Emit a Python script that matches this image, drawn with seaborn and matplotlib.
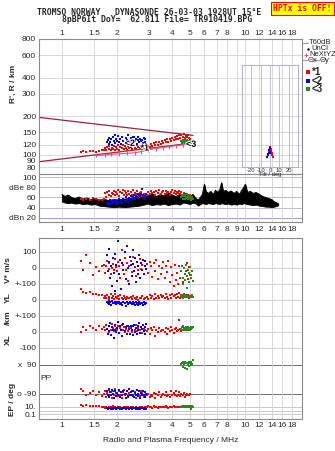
import numpy as np
import pandas as pd
import matplotlib
matplotlib.use("Agg")
import matplotlib.pyplot as plt
import seaborn as sns
import matplotlib.patheffects as pe
from matplotlib.ticker import FixedLocator, NullLocator, FixedFormatter

# ---------------- data ----------------
# O-mode echoes (*1, red)
r_f = [1.27, 1.31, 1.36, 1.42, 1.47, 1.53, 1.60, 1.66,
       1.70, 1.72, 1.75, 1.77, 1.80, 1.82, 1.85, 1.87, 1.90, 1.92, 1.95, 1.97,
       2.00, 2.03, 2.06, 2.09, 2.12, 2.15, 2.18, 2.21, 2.24, 2.27, 2.30, 2.34,
       2.38, 2.42, 2.46, 2.50, 2.54, 2.58, 2.62, 2.66, 2.70, 2.75, 2.80, 2.86,
       2.92, 2.97, 3.02, 3.07, 3.12, 3.17, 3.22, 3.28, 3.34, 3.40, 3.46, 3.52,
       3.58, 3.64, 3.70, 3.76, 3.82, 3.88, 3.95, 4.02, 4.08, 4.14, 4.20, 4.26,
       4.32, 4.38, 4.44, 4.50, 4.56, 4.62, 4.68, 4.74, 4.80, 4.87, 4.94, 5.02]
r_h = [106, 107, 105, 108, 107, 106, 108, 109,
       110, 113, 109, 115, 111, 117, 110, 114, 112, 118, 109, 115,
       112, 119, 110, 116, 113, 120, 111, 117, 114, 110, 118, 113,
       116, 111, 119, 114, 112, 120, 115, 113, 118, 116, 114, 117,
       112, 118, 115, 121, 117, 123, 119, 125, 120, 127, 122, 128,
       124, 130, 126, 132, 127, 134, 129, 136, 131, 138, 133, 140,
       134, 142, 136, 144, 138, 146, 135, 140, 137, 143, 135, 132]
r_db = [57, 55, 58, 56, 59, 57, 55, 56,
        58, 68, 61, 70, 65, 72, 62, 69, 66, 73, 64, 70,
        67, 74, 63, 71, 68, 75, 65, 72, 69, 64, 73, 67,
        70, 65, 74, 68, 66, 72, 63, 69, 71, 62, 67, 60,
        64, 70, 66, 73, 68, 71, 65, 72, 69, 74, 66, 70,
        72, 67, 73, 69, 71, 65, 70, 74, 68, 72, 66, 70,
        69, 73, 67, 71, 64, 68, 62, 66, 60, 64, 58, 61]
r_v = [45, -10, 78, 30, -45, 5, -20, 15,
       20, -30, 10, 45, -5, 30, -40, 0, 25, -15, 55, 5,
       -20, 40, 10, -60, 110, 20, -35, 60, -10, 30, -80, 15,
       45, -25, 70, 5, -50, 35, -15, 55, -5, 20, -40, 10,
       25, -30, 40, 10, -55, 30, -20, 50, -70, 15, -40, 0,
       35, -60, 10, -25, 45, -90, 5, -45, -110, 20, -75, -30,
       -100, 10, -60, -20, -85, 0, -40, -20, 30, -70, 5, -45]
r_yl = [69, 50, 45, 48, 40, 35, 30, 28,
        15, 25, 10, 30, 5, 20, 35, 12, 25, 8, 40, 18,
        10, 22, 5, 30, 15, 8, 25, 12, 3, 20, 10, 15,
        18, 5, 25, 12, 8, 20, 2, 15, 10, 22, 6, 14,
        20, 8, 30, 12, 25, 5, 35, 15, 22, 10, 28, 18,
        25, 12, 35, 20, 8, 30, 15, 40, 22, 28, 10, 35,
        20, 45, 15, 30, 25, 35, 18, 28, 22, 30, 15, 25]
r_xl = [-2, 30, 15, 40, 25, 10, 35, 20,
        30, 10, 45, 20, 0, 35, 15, 50, 25, 5, 40, 18,
        10, 35, -5, 25, 45, 15, 30, 0, 20, 40, 8, 28,
        22, 0, 35, 12, 42, 5, 25, 15, 30, -8, 18, 10,
        5, 20, -15, 25, 10, 30, -25, 15, 0, 22, 8, 12,
        15, 0, 25, -10, 20, 5, 30, 10, -5, 18, 25, 8,
        15, 75, 20, 5, 28, 12, 25, 18, 10, 22, 15, 20]
r_pp = [-58, -75, -100, -85, -70, -95, -80, -105,
        -90, -70, -110, -85, -65, -100, -80, -115, -75, -95, -60, -88,
        -85, -105, -70, -95, -115, -80, -65, -100, -90, -75, -110, -85,
        -95, -70, -100, -80, -115, -65, -90, -105, -75, -85, -110, -95,
        -100, -90, -110, -95, -105, -85, -115, -90, -100, -80, -110, -95,
        -90, -100, -80, -105, -95, -110, -70, -100, -85, -95, -75, -105,
        -95, -80, -105, -90, -100, -85, -110, -95, -90, -100, -95, -90]
r_ep = [30, 25, 28, 22, 18, 25, 15, 12,
        8, 5, 12, 6, 10, 4, 9, 5, 14, 7, 11, 6,
        6, 9, 4, 12, 7, 5, 10, 6, 8, 4, 11, 7,
        8, 5, 10, 6, 12, 7, 4, 9, 6, 11, 5, 8,
        10, 14, 8, 12, 6, 15, 9, 11, 7, 13, 10, 8,
        12, 9, 15, 10, 7, 13, 11, 8, 14, 10, 12, 9,
        11, 8, 13, 10, 9, 12, 8, 15, 10, 12, 9, 11]

# X-mode echoes (<2, blue)
b_f = [1.76, 1.78, 1.80, 1.82, 1.84, 1.86, 1.88, 1.90, 1.93, 1.95, 1.98, 2.00,
       2.03, 2.06, 2.08, 2.11, 2.14, 2.17, 2.20, 2.23, 2.26, 2.29, 2.32, 2.35,
       2.38, 2.41, 2.44, 2.47, 2.50, 2.53, 2.56, 2.59, 2.62, 2.65, 2.68, 2.71,
       2.74, 2.77, 2.80, 2.83, 2.86, 2.89, 1.96, 2.45]
b_h = [125, 130, 122, 135, 127, 132, 120, 138, 128, 124, 134, 129,
       140, 126, 133, 121, 137, 129, 124, 135, 131, 142, 127, 123,
       136, 130, 125, 139, 128, 133, 122, 137, 130, 126, 134, 128,
       131, 124, 136, 127, 132, 122, 143, 138]
b_db = [48, 52, 46, 50, 55, 47, 53, 49, 51, 56, 48, 54,
        50, 57, 52, 55, 49, 58, 53, 60, 55, 51, 59, 56,
        62, 57, 60, 64, 58, 63, 61, 66, 59, 64, 62, 66,
        76, 65, 58, 63, 61, 67, 52, 57]
b_v = [80, -20, 40, 120, -60, 10, -110, 60, -30, 90, 20, -80,
       166, -40, 50, -130, 30, -10, 100, -70, 140, 0, -100, 70,
       20, -50, 110, -20, 60, -90, 40, -40, 10, 80, -60, 30,
       -15, 50, -35, 15, 45, -5, -145, 25]
b_yl = [-10, -20, -5, -25, -15, -30, -8, -18, -22, -12, -28, -15,
        -20, -10, -25, -18, -30, -12, -22, -35, -15, -25, -20, -10,
        -18, -28, -12, -22, -30, -15, -25, -20, -32, -14, -26, -18,
        -22, -30, -15, -25, -28, -20, -18, -24]
b_xl = [20, -10, 40, 5, 55, -20, 30, 10, -36, 45, 0, 25,
        60, -5, 35, 15, -25, 50, 5, 30, -15, 40, 20, -10,
        35, 10, -20, 45, 0, 25, -10, 40, 15, 55, -5, 30,
        20, 45, 5, 30, -15, 50, 10, 35]
b_pp = [-70, -95, -60, -110, -80, -100, -65, -90, -115, -75, -105, -85,
        -95, -65, -110, -80, -100, -70, -90, -115, -75, -105, -60, -95,
        -80, -100, -70, -110, -85, -95, -65, -105, -90, -75, -115, -85,
        -95, -70, -100, -80, -110, -90, -75, -105]
b_ep = [5, 3, 7, 4, 6, 2.5, 5, 3.5, 6, 4, 3, 5,
        4, 6, 3, 5, 2.5, 7, 4, 3, 5, 6, 3.5, 4,
        6, 3, 5, 4, 7, 3, 5, 2.5, 4, 6, 3.5, 5,
        4, 6, 3, 5, 4, 3, 5, 4]

# third group (<3, green)
g_f = [4.48, 4.52, 4.56, 4.60, 4.64, 4.68, 4.72, 4.76, 4.80,
       4.84, 4.88, 4.92, 4.96, 5.00, 5.05, 5.10, 5.15, 5.20]
g_h = [128, 124, 130, 126, 129, 123, 131, 127, 125,
       130, 124, 128, 126, 129, 122, 127, 125, 123]
g_db = [60, 64, 58, 62, 65, 57, 63, 59, 61,
        66, 58, 62, 60, 64, 56, 59, 61, 57]
g_v = [-20, 10, -60, -100, 0, -40, -75, 20, -50,
       -125, -10, -30, -90, 5, -65, -45, -20, -80]
g_yl = [22, 18, 28, 15, 25, 20, 30, 17, 24, 19, 27, 21, 16, 26, 23, 18, 29, 20]
g_xl = [20, 28, 12, 35, 18, 25, 10, 30, 22, 15, 32, 20, 26, 14, 28, 18, 24, 30]
g_pp = [95, 105, 80, 110, 98, 72, 108, 100, 65, 102, 96, 110, 85, 100, 106, 92, 98, 120]
g_ep = [12, 15, 10, 18, 13, 11, 16, 14, 10, 12, 17, 13, 11, 15, 2, 12, 14, 13]

# model lines (height / km vs frequency)
wedge_f = [0.75, 5.2]
wedge_upper = [196, 142]
wedge_lower = [88.5, 124]
nexyz_f = [1.53, 1.72, 1.85, 2.05, 2.28, 2.50, 2.70, 2.95, 3.25, 3.55, 3.85, 4.20, 4.60]
nexyz_h = [99, 100, 101, 102, 103, 104, 106, 109, 112, 114, 116, 118, 120]

# mode labels
mark_f = [2.84, 2.35, 5.08]
mark_h = [113, 123, 121]
mark_txt = ['*1', '<2', '<3']

# tilt inset
tilt_r_x = [0.0, -0.5, 1.0, -1.0, 1.5, 0.5, 2.0, 2.5, 3.0, -1.5]
tilt_r_h = [115, 112, 112, 108, 108, 110, 104, 100, 96, 104]
tilt_b_x = [-0.5, -1.0, 0.0, -1.5, -2.0, -2.5, -3.0, -0.5]
tilt_b_h = [113, 109, 106, 104, 101, 99, 96, 104]

# noise trace (dBe)
noise_f = [1.00, 1.04, 1.08, 1.13, 1.18, 1.24, 1.30, 1.37, 1.44, 1.52,
           1.60, 1.70, 1.80, 1.92, 2.05, 2.20, 2.35, 2.50, 2.65, 2.80,
           2.95, 3.10, 3.28, 3.45, 3.62, 3.80, 4.00, 4.20, 4.40, 4.60,
           4.80, 5.00, 5.20, 5.40, 5.55, 5.70, 5.85, 6.00, 6.12, 6.30,
           6.50, 6.70, 6.90, 7.10, 7.30, 7.45, 7.60, 7.85, 8.10, 8.40,
           8.70, 9.00, 9.30, 9.60, 9.85, 10.05, 10.3, 10.7, 11.1, 11.5,
           12.0, 12.5, 13.0, 13.5, 14.0, 14.4, 14.8, 15.2]
noise_hi = [66, 62, 65, 60, 58, 61, 57, 59, 56, 58,
            55, 57, 54, 56, 55, 57, 58, 60, 59, 62,
            64, 68, 62, 66, 63, 70, 65, 62, 66, 60,
            64, 62, 66, 58, 55, 60, 66, 86, 72, 68,
            72, 66, 74, 70, 76, 89, 72, 74, 70, 73,
            68, 72, 66, 74, 80, 86, 70, 72, 68, 70,
            66, 62, 60, 58, 56, 52, 50, 48]
noise_lo = [52, 50, 49, 50, 48, 49, 47, 48, 46, 47,
            44, 43, 42, 41, 42, 41, 42, 43, 44, 46,
            48, 45, 47, 46, 48, 45, 47, 48, 46, 50,
            49, 47, 50, 48, 44, 47, 49, 48, 47, 49,
            48, 47, 49, 48, 47, 49, 48, 47, 48, 46,
            47, 46, 48, 47, 49, 48, 47, 46, 45, 46,
            44, 43, 42, 42, 41, 42, 43, 45]

grid_ticks = [1, 1.5, 2, 3, 4, 5, 6, 7, 8, 9, 10, 12, 14, 16, 18]
tick_lbl = ['1', '1.5', '2', '3', '4', '5', '6', '7', '8', '9', '10', '12', '14', '16', '18']
h_ticks = [80, 90, 100, 120, 150, 200, 300, 400, 600, 800]
db_ticks = [20, 40, 60, 80, 100]
db_lbl = ['dBn 20', '40', '60', 'dBe 80', '100']

# band offsets in the lower panel (shared linear scale)
OFF_V, OFF_YL, OFF_XL, OFF_PP = 400, 200, 0, -296
EP_REF, EP_DEC = -469, 21.9

# ---------------- figure ----------------
sns.set_style("white")
plt.rcParams['font.family'] = ['Liberation Sans', 'DejaVu Sans']
plt.rcParams['font.size'] = 6

W, H = 335, 451
fig = plt.figure(figsize=(W / 100, H / 100), dpi=100)


def box(x0, y0, x1, y1):
    return [x0 / W, 1 - y1 / H, (x1 - x0) / W, (y1 - y0) / H]


ax_top = fig.add_axes(box(39, 39, 302, 174))
ax_db = fig.add_axes(box(39, 174, 302, 222))
ax_bot = fig.add_axes(box(39, 238, 302, 419))

GRID = '#d2d2d2'
SPINE = '#8a8a8a'
for ax in (ax_top, ax_db, ax_bot):
    ax.set_xscale('log')
    ax.set_xlim(0.75, 20.5)
    ax.xaxis.set_major_locator(FixedLocator(grid_ticks))
    ax.xaxis.set_minor_locator(NullLocator())
    ax.grid(True, axis='x', color=GRID, lw=0.6)
    ax.set_axisbelow(True)
    for s in ax.spines.values():
        s.set_color(SPINE)
        s.set_linewidth(0.8)
    ax.tick_params(length=0, labelsize=6, pad=2)

lbl_no9 = [t if t != '9' else '' for t in tick_lbl]
ax_top.xaxis.set_major_formatter(FixedFormatter(lbl_no9))
ax_top.tick_params(axis='x', labeltop=True, labelbottom=False, pad=1.5)
ax_db.xaxis.set_major_formatter(FixedFormatter(tick_lbl))
ax_db.tick_params(axis='x', pad=3)
ax_bot.xaxis.set_major_formatter(FixedFormatter(lbl_no9))
ax_bot.tick_params(axis='x', pad=2)

RED, BLUE, GREEN = '#ff0000', '#0000ff', '#1e8c1e'
MS = 4.5

# ---- top panel: heights ----
ax_top.set_yscale('log')
ax_top.set_ylim(71, 800)
ax_top.yaxis.set_major_locator(FixedLocator(h_ticks))
ax_top.yaxis.set_minor_locator(NullLocator())
ax_top.yaxis.set_major_formatter(FixedFormatter([str(v) for v in h_ticks]))
ax_top.grid(True, axis='y', color=GRID, lw=0.6)

sns.lineplot(x=wedge_f, y=wedge_upper, ax=ax_top, color='#a0203c', lw=0.9)
sns.lineplot(x=wedge_f, y=wedge_lower, ax=ax_top, color='#a0203c', lw=0.9)
sns.lineplot(x=nexyz_f, y=nexyz_h, ax=ax_top, color='#e0508a', lw=0.8,
             marker='|', markersize=3, markeredgewidth=0.8, markeredgecolor='#e0508a')
for f_, h_, c_ in ((r_f, r_h, RED), (b_f, b_h, BLUE), (g_f, g_h, GREEN)):
    sns.scatterplot(x=f_, y=h_, ax=ax_top, color=c_, marker='s', s=MS,
                    linewidth=0, legend=False)
for f_, h_, t_ in zip(mark_f, mark_h, mark_txt):
    ax_top.text(f_, h_, t_, fontsize=6.5, fontweight='bold', ha='center', va='center',
                color='black', path_effects=[pe.withStroke(linewidth=1.5, foreground='white')])

# tilt inset
ax_tilt = fig.add_axes(box(242, 65, 298, 167))
ax_tilt.patch.set_alpha(0)
ax_tilt.set_yscale('log')
ax_tilt.set_ylim(80.5, 501)
ax_tilt.set_xlim(-30, 30)
ax_tilt.set_yticks([])
ax_tilt.yaxis.set_minor_locator(NullLocator())
ax_tilt.set_xticks([-20, -10, 0, 10, 20])
ax_tilt.set_xticklabels(['-20', '-10', '0', '10', '20'])
ax_tilt.tick_params(length=0, labelsize=4.2, pad=0.5)
ax_tilt.grid(True, axis='x', color='#b4b4c8', lw=0.6)
for s in ax_tilt.spines.values():
    s.set_color('#b4b4c8')
    s.set_linewidth(0.8)
ax_tilt.set_xlabel('Tilt / deg', fontsize=4.2, labelpad=-0.5)
sns.scatterplot(x=tilt_r_x, y=tilt_r_h, ax=ax_tilt, color=RED, marker='s', s=3,
                linewidth=0, legend=False)
sns.scatterplot(x=tilt_b_x, y=tilt_b_h, ax=ax_tilt, color=BLUE, marker='s', s=3,
                linewidth=0, legend=False)

# ---- dBe panel ----
ax_db.set_ylim(12, 106)
ax_db.yaxis.set_major_locator(FixedLocator(db_ticks))
ax_db.yaxis.set_major_formatter(FixedFormatter(db_lbl))
for v in db_ticks:
    ax_db.axhline(v, color='#9c9cdc' if v == 20 else '#bcbcbc', lw=0.7, zorder=0.5)
ax_db.fill_between(noise_f, noise_lo, noise_hi, color='black', lw=0.6, zorder=2)
sns.lineplot(x=noise_f, y=noise_hi, ax=ax_db, color='black', lw=0.6, zorder=2)
for f_, d_, c_ in ((r_f, r_db, RED), (b_f, b_db, BLUE), (g_f, g_db, GREEN)):
    sns.scatterplot(x=f_, y=d_, ax=ax_db, color=c_, marker='s', s=MS,
                    linewidth=0, legend=False, zorder=3)

# ---- lower panel: V*, YL, XL, PP, EP ----
ax_bot.set_ylim(-544, 587)
bot_ticks = [500, 400, 300, 200, 100, 0, -100,
             OFF_PP + 90, OFF_PP - 90, EP_REF, EP_REF - 2 * EP_DEC]
bot_lbl = ['100', '0', '+-100', '0', '+-100', '0', '-100', 'x  90', 'o -90', '10.', '0.1']
ax_bot.yaxis.set_major_locator(FixedLocator(bot_ticks))
ax_bot.yaxis.set_major_formatter(FixedFormatter(bot_lbl))
for v in bot_ticks[:7]:
    ax_bot.axhline(v, color='#c8c8c8', lw=0.6, zorder=0.5)
for v in bot_ticks[7:9]:
    ax_bot.axhline(v, color='#6e6e6e', lw=0.7, zorder=0.5)
for v in (EP_REF, EP_REF - EP_DEC, EP_REF - 2 * EP_DEC):
    ax_bot.axhline(v, color='#c0c0c0', lw=0.6, zorder=0.5)

groups = [(r_f, r_v, r_yl, r_xl, r_pp, r_ep, RED),
          (b_f, b_v, b_yl, b_xl, b_pp, b_ep, BLUE),
          (g_f, g_v, g_yl, g_xl, g_pp, g_ep, GREEN)]
for f_, v_, yl_, xl_, pp_, ep_, c_ in groups:
    df = pd.DataFrame({'f': f_, 'v': v_, 'yl': yl_, 'xl': xl_, 'pp': pp_, 'ep': ep_})
    rows = [df['v'] + OFF_V, df['yl'] + OFF_YL, df['xl'] + OFF_XL, df['pp'] + OFF_PP,
            EP_REF + EP_DEC * np.log10(df['ep'] / 10.0)]
    for yy in rows:
        sns.scatterplot(x=df['f'], y=yy, ax=ax_bot, color=c_, marker='s', s=MS,
                        linewidth=0, legend=False, zorder=3)
for ax in (ax_top, ax_db, ax_bot):
    ax.set_ylabel('')
ax_top.set_xlabel('')
ax_db.set_xlabel('')
ax_bot.set_xlabel('Radio and Plasma Frequency / MHz', fontsize=6, labelpad=6)

# ---- overlay for titles, axis captions, legend ----
ov = fig.add_axes([0, 0, 1, 1])
ov.set_xlim(0, W)
ov.set_ylim(H, 0)
ov.axis('off')
mono = 'DejaVu Sans Mono'
ov.text(149.5, 12.5, 'TROMSO NORWAY   DYNASONDE 26-03-03 1928UT 15\u00b0E', family=mono,
        fontsize=5.9, fontweight='bold', ha='center', va='center')
ov.text(157.5, 20, '8pBP6It DoY=  62.811 File= TR910419.BPG', family=mono,
        fontsize=5.9, fontweight='bold', ha='center', va='center')
ov.text(302.5, 8.5, 'HPTx is OFF!', family=mono, fontsize=5.9, fontweight='bold',
        ha='center', va='center', color='red',
        bbox=dict(boxstyle='square,pad=0.25', fc='#ffff00', ec='red', lw=0.8))

bold = dict(fontsize=6, fontweight='bold', rotation=90, ha='center', va='center')
ov.text(13, 84, "R', R / km", **bold)
ov.text(8, 270, "V* m/s", **bold)
ov.text(8, 298, "YL", **bold)
ov.text(8, 318, "/km", **bold)
ov.text(8, 340, "XL", **bold)
ov.text(46, 379, "PP", fontsize=6, ha='center', va='center')
ov.text(13, 399, "EP / deg", **bold)

# legend
ov.plot([303, 308], [43, 43], color='#9a9a9a', lw=0.8)
ov.text(309, 43, 'T60dB', fontsize=5.5, va='center')
ov.plot([308], [49], marker='.', color='black', markersize=1.5)
ov.text(311, 49, 'UnCl', fontsize=5.5, va='center')
ov.plot([306], [54.5], marker='+', color='#e0508a', markersize=3.5, mew=0.7)
ov.text(309, 54.5, 'NeXtYZ', fontsize=5.5, va='center')
ov.plot([302, 307], [60, 60], color='#e0809a', lw=0.8)
ov.text(307.5, 60, '\u0398x', fontsize=5.5, va='center')
ov.plot([314, 319], [60, 60], color='#9090e0', lw=0.8)
ov.text(319.5, 60, '\u0398y', fontsize=5.5, va='center')
for yy, c_, t_ in ((72, RED, '*1'), (80.7, BLUE, '<2'), (89.3, GREEN, '<3')):
    ov.plot([307.5], [yy], marker='s', color=c_, markersize=2.6, mew=0)
    ov.text(312, yy, t_, fontsize=7, va='center', fontweight='bold')

fig.savefig('out.png', dpi=100)
